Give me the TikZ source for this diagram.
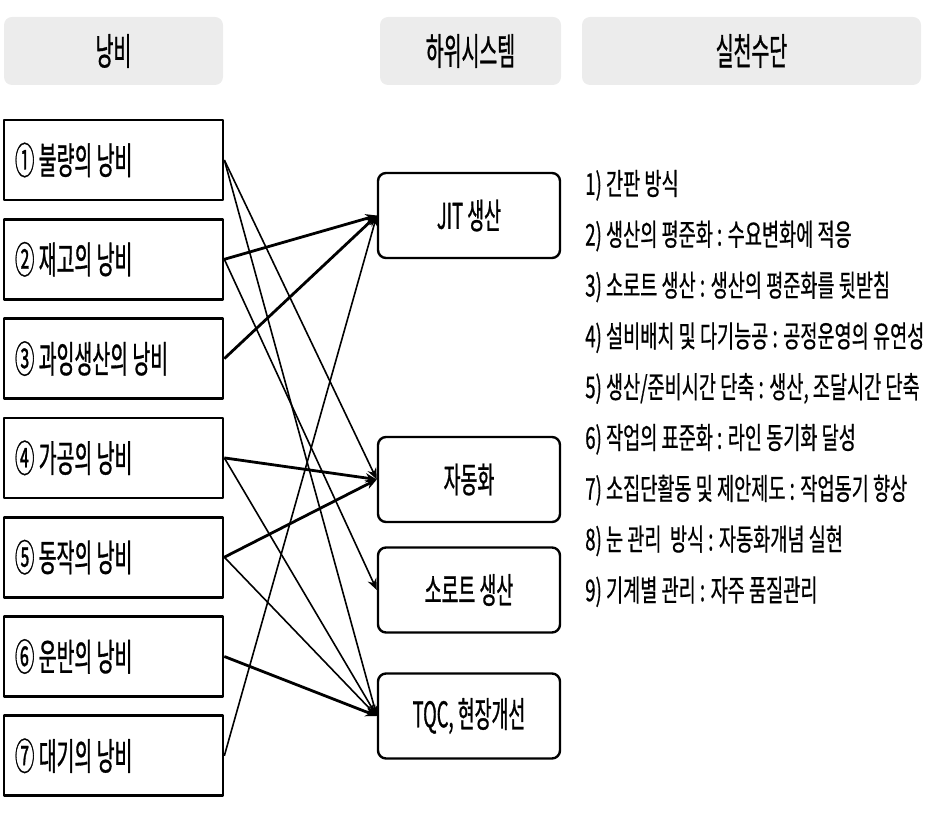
\documentclass[tikz,border=0pt]{standalone}
\usepackage{fontspec}
\usetikzlibrary{arrows.meta}
\newfontfamily\kr[FakeStretch=0.52, FakeBold=0.8]{Noto Sans CJK KR}
\newfontfamily\krl[FakeStretch=0.62, FakeBold=0.6]{Noto Sans CJK KR}
\begin{document}
\begin{tikzpicture}[x=0.75pt, y=-0.75pt, line join=round, >={Stealth[length=8.5pt, width=7pt]},
	head/.style={fill=gray!15, rounded corners=6pt, minimum height=51pt, font=\kr\fontsize{28}{32}\selectfont},
	waste/.style={draw, line width=2pt, minimum height=60pt, text width=147.75pt, inner xsep=8.25pt, align=flush left, font=\kr\fontsize{28}{32}\selectfont},
	sub/.style={draw, line width=1.8pt, rounded corners=6pt, minimum width=136.5pt, minimum height=63.75pt, font=\kr\fontsize{26.5}{30}\selectfont},
	link/.style={->, line width=1.2pt},
	boldlink/.style={->, line width=2.1pt}]
	\useasboundingbox (0,0) rectangle (933,816);
	% headers
	\node[head, minimum width=164.25pt] (h1) at (113.5,51) {낭비};
	\node[head, minimum width=135.75pt] (h2) at (470.5,51) {하위시스템};
	\node[head, minimum width=254.25pt] (h3) at (751.5,51) {실천수단};
	% wastes
	\foreach \i/\t in {1/① 불량의 낭비, 2/② 재고의 낭비, 3/③ 과잉생산의 낭비, 4/④ 가공의 낭비, 5/⑤ 동작의 낭비, 6/⑥ 운반의 낭비, 7/⑦ 대기의 낭비}
		\node[waste] (w\i) at (113.5,{60.7+99.3*\i}) {\t};
	% subsystems
	\node[sub] (jit) at (469,215.5) {JIT 생산};
	\node[sub] (auto) at (469,479.5) {자동화};
	\node[sub] (lot) at (469,590) {소로트 생산};
	\node[sub] (tqc) at (469,716) {TQC, 현장개선};
	\foreach \a/\b/\s in {1/auto/link, 1/tqc/link, 2/jit/boldlink, 2/lot/link, 3/jit/boldlink, 4/auto/boldlink, 4/tqc/link, 5/auto/boldlink, 5/tqc/link, 6/tqc/boldlink, 7/jit/link}
		\draw[\s] (w\a.east) -- (\b.west);
	% means
	\foreach \t [count=\i] in {1) 간판 방식, 2) 생산의 평준화 : 수요변화에 적응, 3) 소로트 생산 : 생산의 평준화를 뒷받침, 4) 설비배치 및 다기능공 : 공정운영의 유연성, {5) 생산/준비시간 단축 : 생산, 조달시간 단축}, 6) 작업의 표준화 : 라인 동기화 달성, 7) 소집단활동 및 제안제도 : 작업동기 향상, 8) 눈 관리\ \ 방식 : 자동화개념 실현, 9) 기계별 관리 : 자주 품질관리}
		\node[anchor=west, inner sep=0, font=\krl\fontsize{22.5}{26}\selectfont] (m\i) at (585,{134.5+50.8*\i}) {\t};
\end{tikzpicture}
\end{document}
